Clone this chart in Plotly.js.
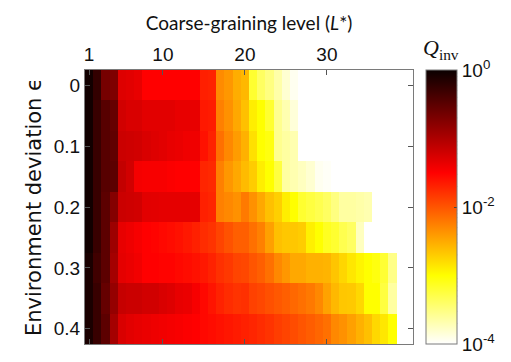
<!DOCTYPE html>
<html><head><meta charset="utf-8">
<script src="https://cdn.plot.ly/plotly-3.0.1.min.js"></script>
<style>html,body{margin:0;padding:0;background:#fff}#chart{width:511px;height:362px}</style>
</head><body><div id="chart"></div>
<script>
// Coarse-graining level L* (columns)
const levels = [1,2,3,4,5,6,7,8,9,10,11,12,13,14,15,16,17,18,19,20,
                21,22,23,24,25,26,27,28,29,30,31,32,33,34,35,36,37,38,39,40];
// Environment deviation epsilon (rows)
const epsilons = [0, 0.05, 0.1, 0.15, 0.2, 0.25, 0.3, 0.35, 0.4];
// log10(Q_inv) per row (missing = blank)
const eps000 = [-0.05,-0.25,-0.66,-0.71,-1.3,-1.32,-1.36,-1.5,-1.5,-1.5,-1.5,-1.5,-1.5,-1.5,-1.68,-1.7,-2.32,-2.39,-2.52,-2.58,-3.19,-3.38,-3.5,-3.66,-3.82,-3.94];
const eps005 = [-0.04,-0.28,-0.47,-0.56,-1.22,-1.27,-1.27,-1.32,-1.32,-1.32,-1.32,-1.36,-1.36,-1.36,-1.64,-1.66,-2.25,-2.35,-2.49,-2.63,-2.9,-3.0,-3.19,-3.56,-3.69,-3.85];
const eps010 = [-0.04,-0.28,-0.47,-0.53,-1.18,-1.2,-1.22,-1.27,-1.3,-1.32,-1.36,-1.38,-1.41,-1.41,-1.6,-1.7,-2.16,-2.3,-2.42,-2.54,-2.82,-3.0,-3.06,-3.56,-3.63,-3.69];
const eps015 = [-0.04,-0.28,-0.47,-0.5,-1.13,-1.22,-1.44,-1.46,-1.46,-1.46,-1.48,-1.5,-1.5,-1.5,-1.72,-1.74,-2.25,-2.39,-2.49,-2.6,-2.7,-2.9,-3.0,-3.25,-3.63,-3.69,-3.75,-3.82,-3.94,-3.97];
const eps020 = [-0.04,-0.28,-0.5,-0.75,-1.18,-1.2,-1.22,-1.32,-1.33,-1.34,-1.34,-1.34,-1.34,-1.34,-1.69,-1.72,-2.25,-2.3,-2.35,-2.22,-2.35,-2.49,-2.63,-2.72,-2.9,-3.0,-3.19,-3.25,-3.31,-3.38,-3.5,-3.63,-3.63,-3.66,-3.69];
const eps025 = [-0.04,-0.28,-0.5,-0.9,-1.36,-1.4,-1.45,-1.5,-1.52,-1.55,-1.57,-1.6,-1.64,-1.69,-1.76,-1.8,-1.9,-1.98,-2.06,-2.06,-2.16,-2.25,-2.44,-2.63,-2.67,-2.67,-2.7,-2.91,-3.0,-3.13,-3.19,-3.31,-3.38,-3.75];
const eps030 = [-0.1,-0.33,-0.5,-0.94,-1.34,-1.38,-1.42,-1.5,-1.5,-1.52,-1.52,-1.55,-1.57,-1.6,-1.64,-1.7,-1.78,-1.83,-1.9,-1.92,-2.0,-2.06,-2.16,-2.3,-2.39,-2.49,-2.49,-2.54,-2.54,-2.56,-2.66,-2.76,-2.86,-2.94,-3.0,-3.06,-3.2,-3.53];
const eps035 = [-0.1,-0.28,-0.56,-0.85,-1.15,-1.18,-1.18,-1.22,-1.22,-1.27,-1.3,-1.36,-1.38,-1.45,-1.55,-1.62,-1.7,-1.76,-1.8,-1.78,-1.88,-1.92,-1.97,-2.02,-2.06,-2.11,-2.16,-2.21,-2.3,-2.45,-2.58,-2.67,-2.68,-2.77,-3.0,-3.0,-3.25,-3.63];
const eps040 = [-0.1,-0.28,-0.5,-0.94,-1.27,-1.32,-1.35,-1.38,-1.4,-1.42,-1.44,-1.46,-1.48,-1.5,-1.55,-1.57,-1.6,-1.63,-1.66,-1.69,-1.72,-1.76,-1.8,-1.86,-1.9,-1.95,-2.0,-2.05,-2.1,-2.16,-2.3,-2.35,-2.44,-2.54,-2.63,-2.77,-2.86,-3.0];
const xTicks = [1, 10, 20, 30];
const xTickText = ['1', '10', '20', '30'];
const yTicks = [0, 0.1, 0.2, 0.3, 0.4];
const yTickText = ['0', '0.1', '0.2', '0.3', '0.4'];
const cbTicks = [-4, -2, 0];
const cbTickText = ['10<sup>-4</sup>', '10<sup>-2</sup>', '10<sup>0</sup>'];

const rows = [eps000, eps005, eps010, eps015, eps020, eps025, eps030, eps035, eps040];
const z = rows.map(r => levels.map((_, i) => (i < r.length ? r[i] : null)));

const frame = '#7a7a7a';
const zMin = -4, zMax = 0;
const cbX = 1.04, cbThick = 31, plotW = 511 - 85 - 98;
const cbRight = cbX + cbThick / plotW;

// minor log ticks along the colour bar's right edge, drawn as small shapes
const shapes = [];
for (let d = zMin; d < zMax; d++) {
  for (let k = 2; k <= 9; k++) {
    const yy = (d + Math.log10(k) - zMin) / (zMax - zMin);
    shapes.push({type: 'line', xref: 'paper', yref: 'paper', x0: cbRight - 3 / plotW, x1: cbRight,
                 y0: yy, y1: yy, line: {color: '#444', width: 1}});
  }
}

const trace = {
  type: 'heatmap', x: levels, y: epsilons, z: z,
  zmin: zMin, zmax: zMax,
  colorscale: [[0, '#ffffff'], [0.25, '#ffff00'], [0.625, '#ff0000'], [1, '#0a0000']],
  hoverongaps: false,
  colorbar: {
    x: cbX, xanchor: 'left', xpad: 0, y: 0.5, yanchor: 'middle', ypad: 0,
    len: 1, lenmode: 'fraction', thickness: cbThick, thicknessmode: 'pixels',
    outlinewidth: 1, outlinecolor: frame,
    tickmode: 'array', tickvals: cbTicks, ticktext: cbTickText,
    ticks: 'inside', ticklen: 3, tickcolor: '#444', tickwidth: 1,
    tickfont: {family: 'Liberation Sans, Arial, sans-serif', size: 19, color: '#111'}
  }
};

const layout = {
  width: 511, height: 362,
  margin: {l: 85, r: 98, t: 70, b: 18},
  paper_bgcolor: '#fff', plot_bgcolor: '#fff',
  shapes: shapes,
  xaxis: {
    side: 'top', range: [0.5, 40.5], tickmode: 'array', tickvals: xTicks, ticktext: xTickText,
    ticks: 'inside', ticklen: 5, tickcolor: '#555', showline: true, linecolor: frame, linewidth: 1,
    mirror: 'ticks', showgrid: false, zeroline: false,
    tickfont: {family: 'Liberation Sans, Arial, sans-serif', size: 19, color: '#111'},
    title: {text: 'Coarse-graining level (<i>L</i>*)', standoff: 8,
            font: {family: 'Lato, sans-serif', size: 19, color: '#111'}}
  },
  yaxis: {
    range: [0.425, -0.025], tickmode: 'array', tickvals: yTicks, ticktext: yTickText,
    ticks: 'inside', ticklen: 5, tickcolor: '#555', showline: true, linecolor: frame, linewidth: 1,
    mirror: 'ticks', showgrid: false, zeroline: false,
    tickfont: {family: 'Liberation Sans, Arial, sans-serif', size: 19, color: '#111'},
    title: {text: 'Environment deviation \u03F5', standoff: 6,
            font: {family: 'DejaVu Sans, sans-serif', size: 21, color: '#111'}}
  },
  annotations: [{
    xref: 'paper', yref: 'paper', x: 1.085, y: 1.02, xanchor: 'center', yanchor: 'bottom',
    text: '<i>Q</i><sub>inv</sub>', showarrow: false,
    font: {family: 'Liberation Serif, serif', size: 22, color: '#111'}
  }]
};

Plotly.newPlot('chart', [trace], layout, {displayModeBar: false, staticPlot: true});
</script></body></html>
